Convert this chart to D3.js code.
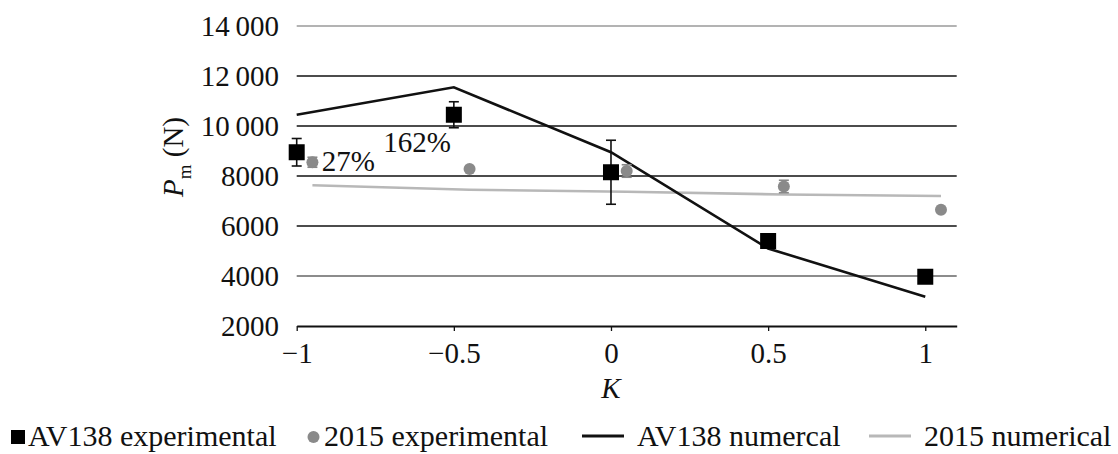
<!DOCTYPE html>
<html>
<head>
<meta charset="utf-8">
<script src="https://cdn.jsdelivr.net/npm/d3@7"></script>
<style>
  body { margin: 0; background: #fff; }
  svg { display: block; }
</style>
</head>
<body>
<svg id="chart" width="1118" height="454"></svg>
<script>
'use strict';

// data
const kTicks = [-1, -0.5, 0, 0.5, 1];
const kTickLabels = ['\u22121', '\u22120.5', '0', '0.5', '1'];
const pTicks = [2000, 4000, 6000, 8000, 10000, 12000, 14000];
const pTickLabels = ['2000', '4000', '6000', '8000', '10\u2009000', '12\u2009000', '14\u2009000'];

const av138K = [-1, -0.5, 0, 0.5, 1];
const av138Exp = [8950, 10450, 8150, 5400, 3970];
const av138Err = [550, 520, 1280, 200, 120];

const exp2015K = [-0.95, -0.45, 0.05, 0.55, 1.05];
const exp2015 = [8550, 8280, 8200, 7580, 6650];
const exp2015Err = [200, 0, 250, 250, 0];

const av138Num = [10450, 11550, 8950, 5100, 3170];
const num2015 = [7630, 7450, 7370, 7260, 7200];

const notes = [
  { k: -0.92, p: 8200, text: '27%' },
  { k: -0.725, p: 8960, text: '162%' }
];

const FONT = '"Liberation Serif"';
const svg = d3.select('#chart');

const x = d3.scaleLinear().domain([-1, 1.1]).range([296.7, 956.7]);
const y = d3.scaleLinear().domain([2000, 14000]).range([326, 26]);

// horizontal grid (scan shows a couple of them lighter)
const gridColor = v => v === 14000 ? '#9a9a9a' : (v === 4000 ? '#666' : '#111');
svg.append('g').selectAll('line')
  .data(pTicks.filter(v => v > 2000))
  .join('line')
  .attr('x1', x(-1)).attr('x2', x(1.1))
  .attr('y1', d => y(d)).attr('y2', d => y(d))
  .attr('stroke', gridColor)
  .attr('stroke-width', 1.6);

// y axis labels
svg.append('g').selectAll('text')
  .data(pTicks)
  .join('text')
  .attr('x', 279)
  .attr('y', d => y(d))
  .attr('dy', '0.34em')
  .attr('text-anchor', 'end')
  .style('font-family', FONT)
  .style('font-size', '29px')
  .attr('fill', '#111')
  .text((d, i) => pTickLabels[i]);

// x axis
const xAxis = d3.axisBottom(x).tickValues(kTicks).tickSize(5).tickSizeOuter(0)
  .tickFormat((d, i) => kTickLabels[i]);
const xg = svg.append('g').attr('transform', `translate(0,${y(2000)})`).call(xAxis);
xg.select('.domain').attr('stroke', '#111').attr('stroke-width', 2);
xg.selectAll('.tick line').attr('stroke', '#111').attr('stroke-width', 1.3);
xg.selectAll('.tick text')
  .attr('y', 37).attr('dy', 0)
  .attr('fill', '#111')
  .style('font-family', FONT)
  .style('font-size', '29px');

// axis titles
svg.append('text')
  .attr('x', x(0)).attr('y', 398)
  .attr('text-anchor', 'middle')
  .attr('fill', '#111')
  .style('font-family', FONT)
  .style('font-size', '29px').style('font-style', 'italic')
  .text('K');

const yt = svg.append('text')
  .attr('transform', 'translate(183,157) rotate(-90)')
  .attr('text-anchor', 'middle')
  .attr('fill', '#111')
  .style('font-family', FONT)
  .style('font-size', '29px');
yt.append('tspan').style('font-style', 'italic').text('P');
yt.append('tspan').attr('dy', 8).style('font-size', '19px').text('m');
yt.append('tspan').attr('dy', -8).text(' (N)');

// numerical lines
const line = d3.line().x(d => x(d[0])).y(d => y(d[1]));
svg.append('path')
  .datum(exp2015K.map((k, i) => [k, num2015[i]]))
  .attr('d', line)
  .attr('fill', 'none').attr('stroke', '#b8b8b8').attr('stroke-width', 2.6);
svg.append('path')
  .datum(av138K.map((k, i) => [k, av138Num[i]]))
  .attr('d', line)
  .attr('fill', 'none').attr('stroke', '#111').attr('stroke-width', 2.6);

// error bars
function errorBars(ks, vals, errs, color) {
  const g = svg.append('g').attr('stroke', color).attr('stroke-width', 1.6);
  ks.forEach((k, i) => {
    if (!errs[i]) return;
    const cx = x(k), top = y(vals[i] + errs[i]), bot = y(vals[i] - errs[i]);
    g.append('line').attr('x1', cx).attr('x2', cx).attr('y1', top).attr('y2', bot);
    g.append('line').attr('x1', cx - 5).attr('x2', cx + 5).attr('y1', top).attr('y2', top);
    g.append('line').attr('x1', cx - 5).attr('x2', cx + 5).attr('y1', bot).attr('y2', bot);
  });
}
errorBars(exp2015K, exp2015, exp2015Err, '#888');
errorBars(av138K, av138Exp, av138Err, '#111');

// 2015 experimental points
svg.append('g').selectAll('circle')
  .data(exp2015K.map((k, i) => [k, exp2015[i]]))
  .join('circle')
  .attr('cx', d => x(d[0])).attr('cy', d => y(d[1]))
  .attr('r', 6)
  .attr('fill', '#8a8a8a');

// AV138 experimental points
svg.append('g').selectAll('rect')
  .data(av138K.map((k, i) => [k, av138Exp[i]]))
  .join('rect')
  .attr('x', d => x(d[0]) - 8).attr('y', d => y(d[1]) - 8)
  .attr('width', 16).attr('height', 16)
  .attr('fill', '#000');

// percentage notes
svg.append('g').selectAll('text')
  .data(notes)
  .join('text')
  .attr('x', d => x(d.k)).attr('y', d => y(d.p))
  .attr('fill', '#111')
  .style('font-family', FONT)
  .style('font-size', '29px')
  .text(d => d.text);

// legend
const legendItems = [
  { label: 'AV138 experimental', type: 'square', x: 11 },
  { label: '2015 experimental', type: 'circle', x: 307 },
  { label: 'AV138 numercal', type: 'line', color: '#111', x: 582 },
  { label: '2015 numerical', type: 'line', color: '#b8b8b8', x: 869 }
];
const legend = svg.append('g').attr('transform', 'translate(0,446)');
legendItems.forEach(item => {
  const g = legend.append('g').attr('transform', `translate(${item.x},0)`);
  let sw;
  if (item.type === 'square') {
    g.append('rect').attr('x', 0).attr('y', -16).attr('width', 14).attr('height', 14).attr('fill', '#000');
    sw = 17;
  } else if (item.type === 'circle') {
    g.append('circle').attr('cx', 6.5).attr('cy', -9).attr('r', 6).attr('fill', '#8a8a8a');
    sw = 17;
  } else {
    g.append('line').attr('x1', 0).attr('x2', 42).attr('y1', -10).attr('y2', -10)
      .attr('stroke', item.color).attr('stroke-width', 2.8);
    sw = 55;
  }
  g.append('text').attr('x', sw).attr('y', 0)
    .attr('fill', '#111')
    .style('font-family', FONT).style('font-size', '30px').text(item.label);
});
</script>
</body>
</html>
